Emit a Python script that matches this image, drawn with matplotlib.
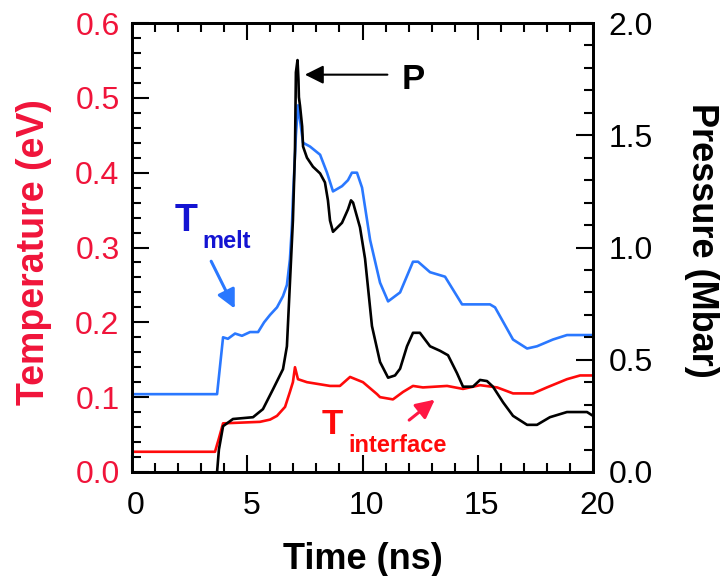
import matplotlib
matplotlib.use('Agg')
import matplotlib.pyplot as plt
from matplotlib.ticker import MultipleLocator

plt.rcParams['font.family'] = ['Liberation Sans', 'DejaVu Sans']

# T_melt (eV)
t_melt = [0, 3.69, 3.95, 4.16, 4.47, 4.77, 5.12, 5.47, 5.73, 5.99, 6.29, 6.55, 6.72, 6.85,
          6.94, 6.98, 7.11, 7.20, 7.29, 7.42, 7.72, 8.16, 8.46, 8.72, 9.11, 9.37, 9.54, 9.76,
          9.98, 10.33, 10.76, 11.11, 11.63, 12.19, 12.41, 12.93, 13.58, 14.32, 15.53, 15.75,
          16.53, 17.14, 17.57, 18.26, 18.87, 20.0]
T_melt = [0.104, 0.104, 0.180, 0.178, 0.185, 0.182, 0.187, 0.187, 0.200, 0.210, 0.220, 0.235,
          0.250, 0.284, 0.330, 0.364, 0.450, 0.490, 0.470, 0.440, 0.435, 0.424, 0.400, 0.375,
          0.382, 0.390, 0.400, 0.400, 0.380, 0.310, 0.253, 0.228, 0.240, 0.281, 0.281, 0.267,
          0.261, 0.224, 0.224, 0.220, 0.177, 0.165, 0.168, 0.177, 0.183, 0.183]

# T_interface (eV)
t_int = [0, 3.60, 3.77, 3.95, 5.55, 5.99, 6.29, 6.64, 6.85, 6.98, 7.07, 7.20, 7.59, 8.59,
         9.02, 9.46, 10.02, 10.63, 10.76, 11.32, 11.76, 12.19, 12.62, 13.67, 14.36, 15.10,
         15.84, 16.53, 17.40, 18.0, 18.87, 19.44, 20.0]
T_int = [0.027, 0.027, 0.045, 0.065, 0.067, 0.070, 0.075, 0.087, 0.107, 0.120, 0.140, 0.124,
         0.120, 0.115, 0.115, 0.127, 0.120, 0.104, 0.100, 0.097, 0.107, 0.115, 0.113, 0.115,
         0.111, 0.116, 0.113, 0.105, 0.105, 0.113, 0.124, 0.129, 0.129]

# Pressure (Mbar)
t_p = [3.69, 3.77, 3.95, 4.38, 4.82, 5.25, 5.68, 6.12, 6.55, 6.72, 6.85, 6.98, 7.07, 7.11,
       7.18, 7.22, 7.24, 7.29, 7.38, 7.42, 7.59, 7.85, 8.16, 8.37, 8.50, 8.59, 8.72, 9.11,
       9.37, 9.50, 9.59, 9.89, 10.11, 10.41, 10.76, 11.11, 11.41, 11.63, 11.93, 12.19, 12.49,
       12.93, 13.36, 13.71, 14.10, 14.36, 14.79, 15.10, 15.40, 15.66, 16.10, 16.53, 17.14,
       17.57, 18.13, 18.87, 19.74, 20.0]
P = [0.0, 0.10, 0.204, 0.236, 0.240, 0.244, 0.280, 0.369, 0.458, 0.560, 0.840, 1.120, 1.430,
     1.780, 1.835, 1.750, 1.670, 1.630, 1.540, 1.450, 1.400, 1.360, 1.330, 1.290, 1.210, 1.120,
     1.070, 1.110, 1.170, 1.210, 1.200, 1.090, 0.950, 0.650, 0.490, 0.420, 0.430, 0.460, 0.560,
     0.620, 0.620, 0.560, 0.540, 0.520, 0.440, 0.380, 0.380, 0.410, 0.405, 0.380, 0.310, 0.250,
     0.210, 0.210, 0.244, 0.267, 0.267, 0.250]

red = '#ff0a0a'
red_txt = '#f0143a'
blue = '#2a78ff'
dark_blue = '#1414d2'

fig = plt.figure(figsize=(7.23, 5.76), dpi=100)
ax = fig.add_axes([0.1826, 0.1806, 0.6376, 0.7794])
ax2 = ax.twinx()

ax.plot(t_melt, T_melt, color=blue, lw=1.9)
ax.plot(t_int, T_int, color=red, lw=1.9)
ax2.plot(t_p, P, color='black', lw=1.9)

ax.set_xlim(0, 20)
ax.set_ylim(0, 0.6)
ax2.set_ylim(0, 2.0)

ax.xaxis.set_major_locator(MultipleLocator(5))
ax.xaxis.set_minor_locator(MultipleLocator(1))
ax.yaxis.set_major_locator(MultipleLocator(0.1))
ax.yaxis.set_minor_locator(MultipleLocator(0.02))
ax2.yaxis.set_major_locator(MultipleLocator(0.5))
ax2.yaxis.set_minor_locator(MultipleLocator(0.1))
ax.xaxis.set_major_formatter(plt.FormatStrFormatter('%d'))
ax.yaxis.set_major_formatter(plt.FormatStrFormatter('%.1f'))
ax2.yaxis.set_major_formatter(plt.FormatStrFormatter('%.1f'))

ax.tick_params(axis='x', which='both', direction='in', top=True, width=1.5,
               labelsize=23, pad=14)
ax.tick_params(axis='y', which='both', direction='in', left=True, right=False, width=1.5,
               labelsize=23, labelcolor=red_txt, pad=9)
ax2.tick_params(axis='y', which='both', direction='in', width=1.5, labelsize=23, pad=11)
for a in (ax, ax2):
    a.tick_params(which='major', length=12)
    a.tick_params(which='minor', length=6.5)
    for s in a.spines.values():
        s.set_linewidth(2)
# nudge x tick labels a little to the right, as in the original
for lbl in ax.get_xticklabels():
    lbl.set_x(lbl.get_position()[0])
import matplotlib.transforms as mtransforms
offset = mtransforms.ScaledTranslation(4 / 100, 0, fig.dpi_scale_trans)
for lbl in ax.get_xticklabels():
    lbl.set_transform(lbl.get_transform() + offset)

ax.set_xlabel('Time (ns)', fontsize=26, fontweight='bold', va='center')
ax.xaxis.set_label_coords(0.5, -0.196)
ax.set_ylabel('Temperature (eV)', fontsize=27, fontweight='bold', color=red_txt, va='center')
ax.yaxis.set_label_coords(-0.212, 0.49)
ax2.set_ylabel('Pressure (Mbar)', fontsize=26, fontweight='bold', rotation=270, va='center')
ax2.yaxis.set_label_coords(1.236, 0.515)

# P annotation
ax.annotate('', xy=(7.38, 0.531), xytext=(11.2, 0.531),
            arrowprops=dict(arrowstyle='-|>', color='black', lw=1.5, mutation_scale=28))
ax.text(12.2, 0.524, 'P', fontsize=25, fontweight='bold', ha='center', va='center')

# T_melt annotation
ax.text(2.34, 0.335, 'T', fontsize=27, fontweight='bold', color=dark_blue, ha='center', va='center')
ax.text(3.04, 0.308, 'melt', fontsize=17, fontweight='bold', color=dark_blue, ha='left', va='center')
ax.annotate('', xy=(4.51, 0.215), xytext=(3.38, 0.285),
            arrowprops=dict(arrowstyle='-|>', color=blue, lw=2.2, mutation_scale=28))

# T_interface annotation
ax.text(8.7, 0.0635, 'T', fontsize=25, fontweight='bold', color=red, ha='center', va='center')
ax.text(9.37, 0.036, 'interface', fontsize=17, fontweight='bold', color=red, ha='left', va='center')
ax.annotate('', xy=(13.23, 0.099), xytext=(11.93, 0.067),
            arrowprops=dict(arrowstyle='-|>', color='#ff1744', lw=2.2, mutation_scale=28))

fig.savefig('out.png', dpi=100)
